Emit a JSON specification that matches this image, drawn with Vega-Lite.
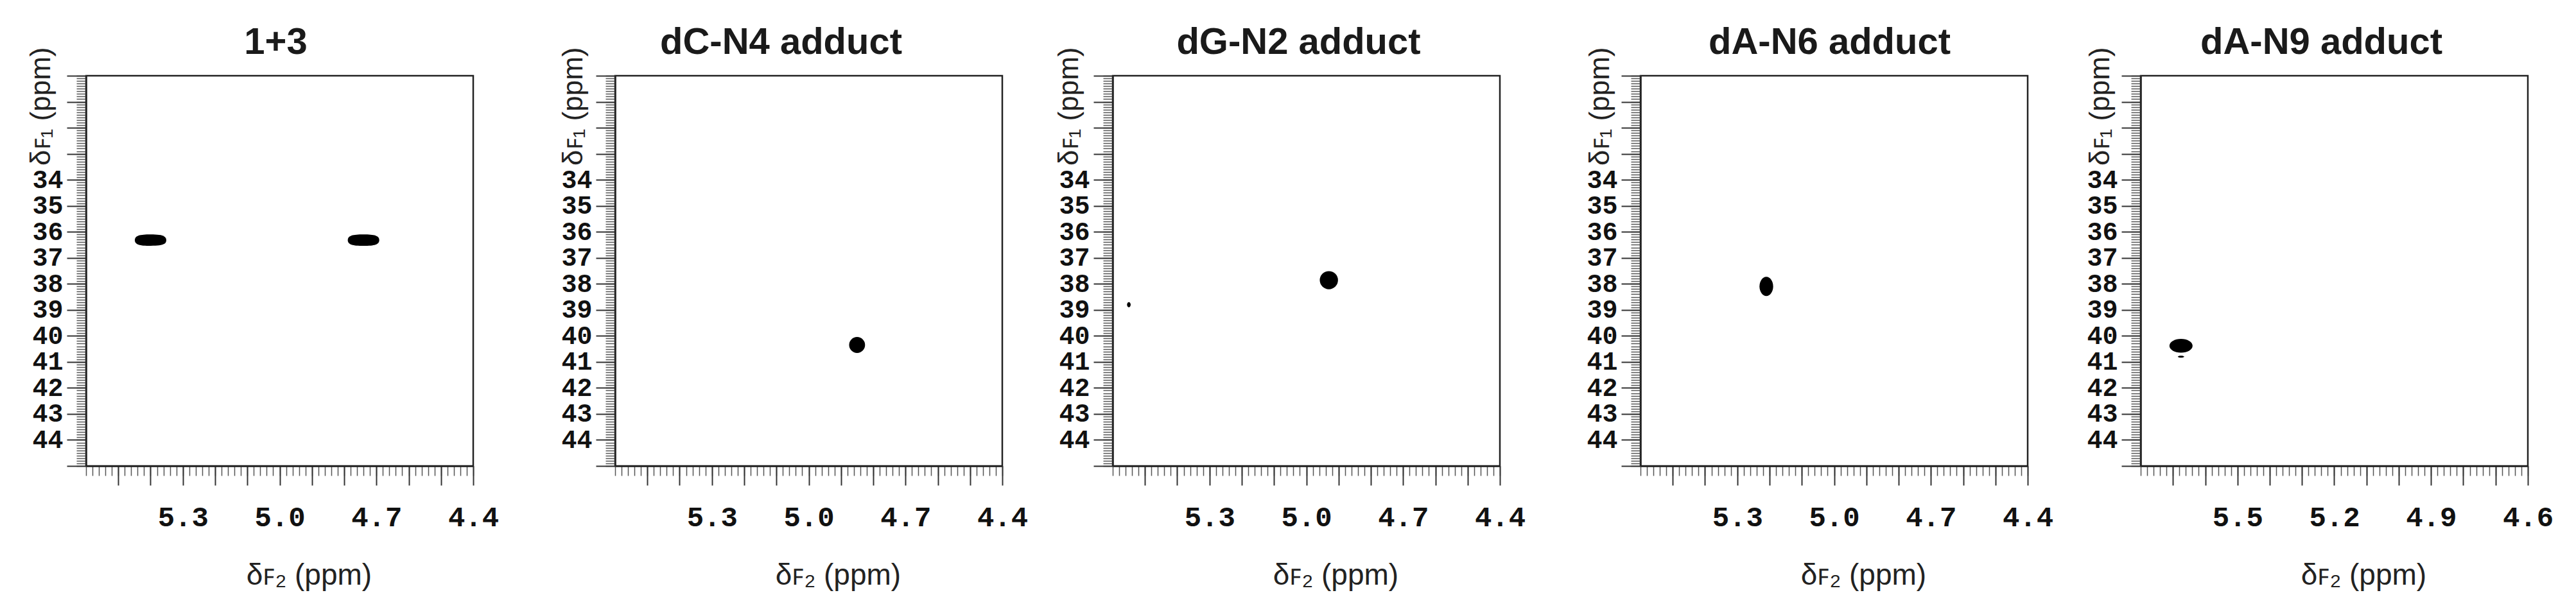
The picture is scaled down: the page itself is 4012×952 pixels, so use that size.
{
  "$schema": "https://vega.github.io/schema/vega-lite/v6.json",
  "background": "white",
  "padding": {"left": 40, "top": 36, "right": 0, "bottom": 0},
  "spacing": 91,
  "config": {
    "view": {"stroke": "#222", "strokeWidth": 2.5},
    "axis": {"grid": false, "domainColor": "#222", "domainWidth": 2.5, "tickColor": "#333", "labelFont": "Liberation Mono", "labelFontWeight": "bold", "labelFontSize": 44, "labelColor": "#111", "titleFont": "Liberation Sans", "titleFontWeight": "normal", "titleFontSize": 46, "titleColor": "#222", "labelFlush": false, "labelBound": false, "labelOverlap": false},
    "axisLeft": {"titleFontSize": 44, "labelFontSize": 40},
    "title": {"font": "Liberation Sans", "fontSize": 58, "fontWeight": "bold", "color": "#1a1a1a", "anchor": "middle", "frame": "group", "baseline": "alphabetic", "offset": -23}
  },
  "datasets": {
    "peaks": [
      {"panel": "1+3", "f2": 5.40, "f1": 36.32, "kind": "peak"},
      {"panel": "1+3", "f2": 4.74, "f1": 36.32, "kind": "peak"},
      {"panel": "dC-N4 adduct", "f2": 4.85, "f1": 40.35, "kind": "peak"},
      {"panel": "dG-N2 adduct", "f2": 4.93, "f1": 37.86, "kind": "peak"},
      {"panel": "dG-N2 adduct", "f2": 5.55, "f1": 38.8, "kind": "speck"},
      {"panel": "dA-N6 adduct", "f2": 5.21, "f1": 38.1, "kind": "peak"},
      {"panel": "dA-N9 adduct", "f2": 5.675, "f1": 40.38, "kind": "peak"},
      {"panel": "dA-N9 adduct", "f2": 5.675, "f1": 40.8, "kind": "speck"}
    ]
  },
  "hconcat": [
    {
      "title": {"text": "1+3", "dx": -6},
      "width": 603, "height": 608,
      "data": {"name": "peaks"},
      "transform": [{"filter": "datum.panel == '1+3'"}],
      "layer": [
        {"mark": {"type": "point", "opacity": 0},
         "encoding": {
           "x": {"field": "f2", "type": "quantitative", "scale": {"domain": [4.4, 5.6], "reverse": true, "nice": false, "zero": false}, "axis": {"orient": "bottom", "tickCount": 60, "tickSize": 15, "tickWidth": 1.5, "tickColor": "#555", "labels": false, "domain": false, "title": null}},
           "y": {"field": "f1", "type": "quantitative", "scale": {"domain": [30, 45], "reverse": true, "nice": false, "zero": false}, "axis": {"orient": "left", "tickCount": 150, "tickSize": 15, "tickWidth": 1.5, "tickColor": "#555", "labels": false, "domain": false, "title": null}}
         }},
        {"transform": [{"filter": "datum.kind == 'peak'"}],
         "mark": {"type": "point", "shape": "M-1,0 C-1,-0.28 -0.7,-0.36 0,-0.36 C0.7,-0.36 1,-0.28 1,0 C1,0.28 0.7,0.36 0,0.36 C-0.7,0.36 -1,0.28 -1,0 Z", "size": 2400, "filled": true, "color": "#000", "opacity": 1},
         "encoding": {
           "x": {"field": "f2", "type": "quantitative", "axis": {"orient": "bottom", "values": [4.4, 4.5, 4.6, 4.7, 4.8, 4.9, 5.0, 5.1, 5.2, 5.3, 5.4, 5.5], "format": ".1f", "labelExpr": "indexof(['5.3','5.0','4.7','4.4'], datum.label) >= 0 ? datum.label : ''", "tickSize": 30, "tickWidth": 2, "labelPadding": 28, "title": "δꜰ₂ (ppm)", "titleX": 347, "titleY": 148, "titleAlign": "center", "titleBaseline": "top", "titleAnchor": null}},
           "y": {"field": "f1", "type": "quantitative", "axis": {"orient": "left", "values": [30, 31, 32, 33, 34, 35, 36, 37, 38, 39, 40, 41, 42, 43, 44, 45], "labelExpr": "datum.value >= 34 && datum.value <= 44 ? datum.label : ''", "tickSize": 30, "tickWidth": 2, "labelPadding": 6, "title": "δꜰ₁ (ppm)", "titleX": -57, "titleY": -45, "titleAngle": -90, "titleAlign": "right", "titleBaseline": "alphabetic", "titleAnchor": null}}
         }}
      ],
      "resolve": {"axis": {"x": "independent", "y": "independent"}}
    },
    {
      "spacing": 39,
      "hconcat": [
        {
          "title": {"text": "dC-N4 adduct", "dx": -43},
          "width": 603, "height": 608,
          "data": {"name": "peaks"},
          "transform": [{"filter": "datum.panel == 'dC-N4 adduct'"}],
          "layer": [
            {"mark": {"type": "point", "opacity": 0},
             "encoding": {
               "x": {"field": "f2", "type": "quantitative", "scale": {"domain": [4.4, 5.6], "reverse": true, "nice": false, "zero": false}, "axis": {"orient": "bottom", "tickCount": 60, "tickSize": 15, "tickWidth": 1.5, "tickColor": "#555", "labels": false, "domain": false, "title": null}},
               "y": {"field": "f1", "type": "quantitative", "scale": {"domain": [30, 45], "reverse": true, "nice": false, "zero": false}, "axis": {"orient": "left", "tickCount": 150, "tickSize": 15, "tickWidth": 1.5, "tickColor": "#555", "labels": false, "domain": false, "title": null}}
             }},
            {"transform": [{"filter": "datum.kind == 'peak'"}],
             "mark": {"type": "point", "shape": "circle", "size": 616, "filled": true, "color": "#000", "opacity": 1},
             "encoding": {
               "x": {"field": "f2", "type": "quantitative", "axis": {"orient": "bottom", "values": [4.4, 4.5, 4.6, 4.7, 4.8, 4.9, 5.0, 5.1, 5.2, 5.3, 5.4, 5.5], "format": ".1f", "labelExpr": "indexof(['5.3','5.0','4.7','4.4'], datum.label) >= 0 ? datum.label : ''", "tickSize": 30, "tickWidth": 2, "labelPadding": 28, "title": "δꜰ₂ (ppm)", "titleX": 347, "titleY": 148, "titleAlign": "center", "titleBaseline": "top", "titleAnchor": null}},
               "y": {"field": "f1", "type": "quantitative", "axis": {"orient": "left", "values": [30, 31, 32, 33, 34, 35, 36, 37, 38, 39, 40, 41, 42, 43, 44, 45], "labelExpr": "datum.value >= 34 && datum.value <= 44 ? datum.label : ''", "tickSize": 30, "tickWidth": 2, "labelPadding": 6, "title": "δꜰ₁ (ppm)", "titleX": -52, "titleY": -45, "titleAngle": -90, "titleAlign": "right", "titleBaseline": "alphabetic", "titleAnchor": null}}
             }}
          ],
          "resolve": {"axis": {"x": "independent", "y": "independent"}}
        },
        {
          "title": {"text": "dG-N2 adduct", "dx": -12},
          "width": 603, "height": 608,
          "data": {"name": "peaks"},
          "transform": [{"filter": "datum.panel == 'dG-N2 adduct'"}],
          "layer": [
            {"mark": {"type": "point", "opacity": 0},
             "encoding": {
               "x": {"field": "f2", "type": "quantitative", "scale": {"domain": [4.4, 5.6], "reverse": true, "nice": false, "zero": false}, "axis": {"orient": "bottom", "tickCount": 60, "tickSize": 15, "tickWidth": 1.5, "tickColor": "#555", "labels": false, "domain": false, "title": null}},
               "y": {"field": "f1", "type": "quantitative", "scale": {"domain": [30, 45], "reverse": true, "nice": false, "zero": false}, "axis": {"orient": "left", "tickCount": 150, "tickSize": 15, "tickWidth": 1.5, "tickColor": "#555", "labels": false, "domain": false, "title": null}}
             }},
            {"transform": [{"filter": "datum.kind == 'peak'"}],
             "mark": {"type": "point", "shape": "circle", "size": 804, "filled": true, "color": "#000", "opacity": 1},
             "encoding": {
               "x": {"field": "f2", "type": "quantitative", "axis": {"orient": "bottom", "values": [4.4, 4.5, 4.6, 4.7, 4.8, 4.9, 5.0, 5.1, 5.2, 5.3, 5.4, 5.5], "format": ".1f", "labelExpr": "indexof(['5.3','5.0','4.7','4.4'], datum.label) >= 0 ? datum.label : ''", "tickSize": 30, "tickWidth": 2, "labelPadding": 28, "title": "δꜰ₂ (ppm)", "titleX": 347, "titleY": 148, "titleAlign": "center", "titleBaseline": "top", "titleAnchor": null}},
               "y": {"field": "f1", "type": "quantitative", "axis": {"orient": "left", "values": [30, 31, 32, 33, 34, 35, 36, 37, 38, 39, 40, 41, 42, 43, 44, 45], "labelExpr": "datum.value >= 34 && datum.value <= 44 ? datum.label : ''", "tickSize": 30, "tickWidth": 2, "labelPadding": 6, "title": "δꜰ₁ (ppm)", "titleX": -55, "titleY": -45, "titleAngle": -90, "titleAlign": "right", "titleBaseline": "alphabetic", "titleAnchor": null}}
             }},
            {"transform": [{"filter": "datum.kind == 'speck'"}],
             "mark": {"type": "point", "shape": "M-0.71,0 C-0.71,-0.55 -0.39,-1 0,-1 C0.39,-1 0.71,-0.55 0.71,0 C0.71,0.55 0.39,1 0,1 C-0.39,1 -0.71,0.55 -0.71,0 Z", "size": 64, "filled": true, "color": "#000", "opacity": 1},
             "encoding": {
               "x": {"field": "f2", "type": "quantitative", "axis": null},
               "y": {"field": "f1", "type": "quantitative", "axis": null}
             }}
          ],
          "resolve": {"axis": {"x": "independent", "y": "independent"}}
        }
      ]
    },
    {
      "spacing": 48,
      "hconcat": [
        {
          "title": {"text": "dA-N6 adduct", "dx": -7},
          "width": 603, "height": 608,
          "data": {"name": "peaks"},
          "transform": [{"filter": "datum.panel == 'dA-N6 adduct'"}],
          "layer": [
            {"mark": {"type": "point", "opacity": 0},
             "encoding": {
               "x": {"field": "f2", "type": "quantitative", "scale": {"domain": [4.4, 5.6], "reverse": true, "nice": false, "zero": false}, "axis": {"orient": "bottom", "tickCount": 60, "tickSize": 15, "tickWidth": 1.5, "tickColor": "#555", "labels": false, "domain": false, "title": null}},
               "y": {"field": "f1", "type": "quantitative", "scale": {"domain": [30, 45], "reverse": true, "nice": false, "zero": false}, "axis": {"orient": "left", "tickCount": 150, "tickSize": 15, "tickWidth": 1.5, "tickColor": "#555", "labels": false, "domain": false, "title": null}}
             }},
            {"transform": [{"filter": "datum.kind == 'peak'"}],
             "mark": {"type": "point", "shape": "M-0.71,0 C-0.71,-0.55 -0.39,-1 0,-1 C0.39,-1 0.71,-0.55 0.71,0 C0.71,0.55 0.39,1 0,1 C-0.39,1 -0.71,0.55 -0.71,0 Z", "size": 900, "filled": true, "color": "#000", "opacity": 1},
             "encoding": {
               "x": {"field": "f2", "type": "quantitative", "axis": {"orient": "bottom", "values": [4.4, 4.5, 4.6, 4.7, 4.8, 4.9, 5.0, 5.1, 5.2, 5.3, 5.4, 5.5], "format": ".1f", "labelExpr": "indexof(['5.3','5.0','4.7','4.4'], datum.label) >= 0 ? datum.label : ''", "tickSize": 30, "tickWidth": 2, "labelPadding": 28, "title": "δꜰ₂ (ppm)", "titleX": 347, "titleY": 148, "titleAlign": "center", "titleBaseline": "top", "titleAnchor": null}},
               "y": {"field": "f1", "type": "quantitative", "axis": {"orient": "left", "values": [30, 31, 32, 33, 34, 35, 36, 37, 38, 39, 40, 41, 42, 43, 44, 45], "labelExpr": "datum.value >= 34 && datum.value <= 44 ? datum.label : ''", "tickSize": 30, "tickWidth": 2, "labelPadding": 6, "title": "δꜰ₁ (ppm)", "titleX": -50, "titleY": -45, "titleAngle": -90, "titleAlign": "right", "titleBaseline": "alphabetic", "titleAnchor": null}}
             }}
          ],
          "resolve": {"axis": {"x": "independent", "y": "independent"}}
        },
        {
          "title": {"text": "dA-N9 adduct", "dx": -20},
          "width": 603, "height": 608,
          "data": {"name": "peaks"},
          "transform": [{"filter": "datum.panel == 'dA-N9 adduct'"}],
          "layer": [
            {"mark": {"type": "point", "opacity": 0},
             "encoding": {
               "x": {"field": "f2", "type": "quantitative", "scale": {"domain": [4.6, 5.8], "reverse": true, "nice": false, "zero": false}, "axis": {"orient": "bottom", "tickCount": 60, "tickSize": 15, "tickWidth": 1.5, "tickColor": "#555", "labels": false, "domain": false, "title": null}},
               "y": {"field": "f1", "type": "quantitative", "scale": {"domain": [30, 45], "reverse": true, "nice": false, "zero": false}, "axis": {"orient": "left", "tickCount": 150, "tickSize": 15, "tickWidth": 1.5, "tickColor": "#555", "labels": false, "domain": false, "title": null}}
             }},
            {"transform": [{"filter": "datum.kind == 'peak'"}],
             "mark": {"type": "point", "shape": "M-1,0 C-1,-0.33 -0.55,-0.6 0,-0.6 C0.55,-0.6 1,-0.33 1,0 C1,0.33 0.55,0.6 0,0.6 C-0.55,0.6 -1,0.33 -1,0 Z", "size": 1300, "filled": true, "color": "#000", "opacity": 1},
             "encoding": {
               "x": {"field": "f2", "type": "quantitative", "axis": {"orient": "bottom", "values": [4.6, 4.7, 4.8, 4.9, 5.0, 5.1, 5.2, 5.3, 5.4, 5.5, 5.6, 5.7], "format": ".1f", "labelExpr": "indexof(['5.5','5.2','4.9','4.6'], datum.label) >= 0 ? datum.label : ''", "tickSize": 30, "tickWidth": 2, "labelPadding": 28, "title": "δꜰ₂ (ppm)", "titleX": 347, "titleY": 148, "titleAlign": "center", "titleBaseline": "top", "titleAnchor": null}},
               "y": {"field": "f1", "type": "quantitative", "axis": {"orient": "left", "values": [30, 31, 32, 33, 34, 35, 36, 37, 38, 39, 40, 41, 42, 43, 44, 45], "labelExpr": "datum.value >= 34 && datum.value <= 44 ? datum.label : ''", "tickSize": 30, "tickWidth": 2, "labelPadding": 6, "title": "δꜰ₁ (ppm)", "titleX": -50, "titleY": -45, "titleAngle": -90, "titleAlign": "right", "titleBaseline": "alphabetic", "titleAnchor": null}}
             }},
            {"transform": [{"filter": "datum.kind == 'speck'"}],
             "mark": {"type": "point", "shape": "M-1,0 C-1,-0.17 -0.55,-0.3 0,-0.3 C0.55,-0.3 1,-0.17 1,0 C1,0.17 0.55,0.3 0,0.3 C-0.55,0.3 -1,0.17 -1,0 Z", "size": 100, "filled": true, "color": "#000", "opacity": 1},
             "encoding": {
               "x": {"field": "f2", "type": "quantitative", "axis": null},
               "y": {"field": "f1", "type": "quantitative", "axis": null}
             }}
          ],
          "resolve": {"axis": {"x": "independent", "y": "independent"}}
        }
      ]
    }
  ]
}
